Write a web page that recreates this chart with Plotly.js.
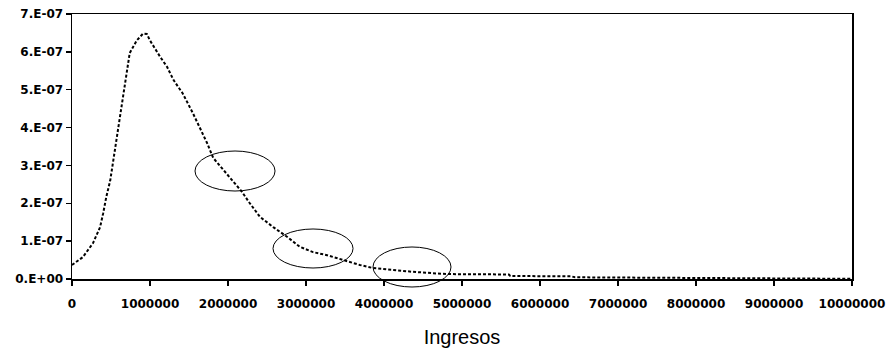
<!DOCTYPE html>
<html>
<head>
<meta charset="utf-8">
<script src="https://cdn.plot.ly/plotly-3.0.1.min.js"></script>
<style>html,body{margin:0;padding:0;background:#fff;}#chart{width:888px;height:351px;}</style>
</head>
<body>
<div id="chart"></div>
<script>
// Income values (pesos)
var ingresos = [0, 140000, 270000, 360000, 400000, 440000, 490000, 530000, 560000, 600000,
  640000, 680000, 740000, 830000, 910000, 960000, 1000000, 1130000, 1220000, 1300000,
  1420000, 1550000, 1640000, 1730000, 1810000, 1940000, 2060000, 2180000, 2280000, 2410000,
  2580000, 2760000, 2920000, 3090000, 3270000, 3470000, 3690000, 3860000, 4370000, 4800000,
  5600000, 5620000, 6400000, 6450000, 6900000, 7000000, 8000000, 10000000];
// Density values
var densidad = [3.7e-8, 5.8e-8, 9.5e-8, 1.37e-7, 1.74e-7, 2.17e-7, 2.6e-7, 3.14e-7, 3.6e-7, 4.2e-7,
  4.65e-7, 5.26e-7, 5.97e-7, 6.3e-7, 6.48e-7, 6.47e-7, 6.3e-7, 5.87e-7, 5.6e-7, 5.26e-7,
  4.9e-7, 4.38e-7, 4.0e-7, 3.6e-7, 3.2e-7, 2.88e-7, 2.6e-7, 2.3e-7, 2.0e-7, 1.64e-7,
  1.37e-7, 1.11e-7, 8.5e-8, 7.1e-8, 6.3e-8, 5.0e-8, 3.7e-8, 2.9e-8, 1.9e-8, 1.3e-8,
  1.2e-8, 8e-9, 7e-9, 4.5e-9, 4e-9, 2e-9, 1e-9, 5e-10];

var xTickVals = [0, 1000000, 2000000, 3000000, 4000000, 5000000, 6000000, 7000000, 8000000, 9000000, 10000000];
var xTickText = ["0", "1000000", "2000000", "3000000", "4000000", "5000000", "6000000", "7000000", "8000000", "9000000", "10000000"];
var yTickVals = [0, 1e-7, 2e-7, 3e-7, 4e-7, 5e-7, 6e-7, 7e-7];
var yTickText = ["0.E+00", "1.E-07", "2.E-07", "3.E-07", "4.E-07", "5.E-07", "6.E-07", "7.E-07"];

var tickFont = {family: "DejaVu Sans", size: 12, color: "#000", weight: "bold"};

var trace = {
  x: ingresos, y: densidad, type: "scatter", mode: "lines",
  line: {color: "#000", width: 2, dash: "3px,2px"},
  hoverinfo: "skip", showlegend: false
};

function ell(x0, x1, y0, y1) {
  return {type: "circle", xref: "paper", yref: "paper", x0: x0, x1: x1, y0: y0, y1: y1,
    line: {color: "#000", width: 1}, layer: "above"};
}

var layout = {
  width: 888, height: 351,
  margin: {l: 72, r: 36, t: 14, b: 72},
  paper_bgcolor: "#fff", plot_bgcolor: "#fff",
  showlegend: false,
  xaxis: {
    range: [0, 10000000], tickmode: "array", tickvals: xTickVals, ticktext: xTickText,
    showgrid: false, zeroline: false, showline: true, mirror: true, linecolor: "#000", linewidth: 1.5,
    ticks: "outside", ticklen: 5, tickwidth: 1.5, tickcolor: "#000",
    tickfont: tickFont, ticklabelstandoff: 8,
    title: {text: "Ingresos", font: {family: "Liberation Sans, Arial", size: 20, color: "#000"}, standoff: 20}
  },
  yaxis: {
    range: [0, 7e-7], tickmode: "array", tickvals: yTickVals, ticktext: yTickText,
    showgrid: false, zeroline: false, showline: true, mirror: true, linecolor: "#000", linewidth: 1.5,
    ticks: "outside", ticklen: 5, tickwidth: 1.5, tickcolor: "#000",
    tickfont: tickFont
  },
  shapes: [
    ell(0.1577, 0.2603, 0.332, 0.483),
    ell(0.2577, 0.3603, 0.0415, 0.1887),
    ell(0.3859, 0.4859, -0.0302, 0.1208)
  ]
};

Plotly.newPlot("chart", [trace], layout, {displayModeBar: false, staticPlot: true});
</script>
</body>
</html>
